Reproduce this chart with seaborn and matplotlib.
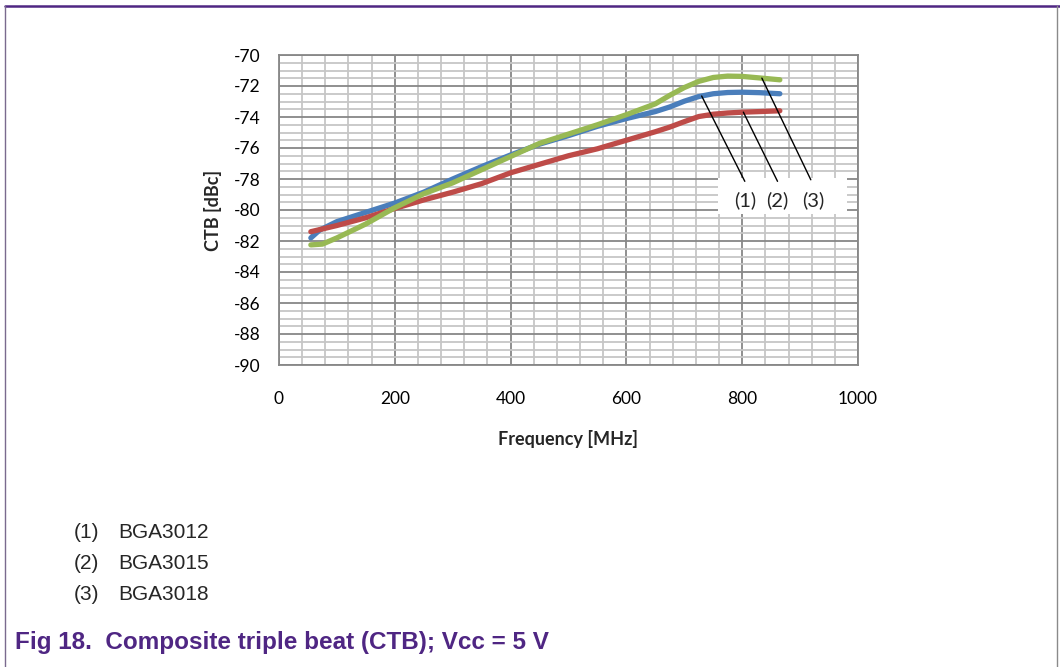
import numpy as np
import pandas as pd
import matplotlib
matplotlib.use("Agg")
import matplotlib.pyplot as plt
import seaborn as sns
from matplotlib.lines import Line2D
from matplotlib.patches import Rectangle

# Frequency sweep [MHz] and measured CTB [dBc] for each device
freq_bga3012 = [55, 70, 100, 150, 200, 250, 300, 350, 400, 450, 500, 550, 600, 650,
                675, 700, 725, 750, 775, 800, 830, 865]
ctb_bga3012 = [-81.8, -81.3, -80.75, -80.15, -79.55, -78.85, -78.0, -77.2, -76.45, -75.75,
               -75.2, -74.6, -74.1, -73.65, -73.35, -72.98, -72.68, -72.5, -72.42, -72.4,
               -72.43, -72.5]

freq_bga3015 = [55, 100, 150, 200, 250, 300, 350, 400, 450, 500, 550, 600, 650,
                675, 700, 725, 750, 775, 800, 830, 865]
ctb_bga3015 = [-81.4, -81.0, -80.5, -79.9, -79.35, -78.85, -78.3, -77.6, -77.05, -76.5,
               -76.05, -75.5, -74.95, -74.65, -74.3, -73.97, -73.82, -73.74, -73.69,
               -73.65, -73.6]

freq_bga3018 = [55, 75, 100, 150, 200, 250, 300, 350, 400, 450, 500, 550, 600, 650,
                675, 700, 725, 750, 775, 800, 830, 865]
ctb_bga3018 = [-82.25, -82.2, -81.8, -80.9, -79.85, -78.95, -78.25, -77.4, -76.55, -75.7,
               -75.1, -74.5, -73.85, -73.15, -72.6, -72.1, -71.7, -71.45, -71.36, -71.38,
               -71.48, -71.6]

series_tags = ["(1)", "(2)", "(3)"]
device_names = ["BGA3012", "BGA3015", "BGA3018"]
series_colors = ["#4a7ebb", "#be4b48", "#98b954"]

x_ticks = [0, 200, 400, 600, 800, 1000]
y_ticks = [-90, -88, -86, -84, -82, -80, -78, -76, -74, -72, -70]

df = pd.concat([
    pd.DataFrame({"freq": freq_bga3012, "ctb": ctb_bga3012, "device": device_names[0]}),
    pd.DataFrame({"freq": freq_bga3015, "ctb": ctb_bga3015, "device": device_names[1]}),
    pd.DataFrame({"freq": freq_bga3018, "ctb": ctb_bga3018, "device": device_names[2]}),
], ignore_index=True)

sns.set_theme(style="white")
plt.rcParams["font.family"] = ["Lato", "DejaVu Sans"]

W, H = 1060, 667
fig = plt.figure(figsize=(W / 100, H / 100), dpi=100)
ax = fig.add_axes([279 / W, 1 - 365 / H, (858 - 279) / W, 310 / H])

grid_major = "#878787"
grid_minor = "#c6c6c6"

ax.set_xlim(0, 1000)
ax.set_ylim(-90, -70)
ax.set_xticks(x_ticks)
ax.set_yticks(y_ticks)
ax.set_xticks(np.arange(0, 1001, 40), minor=True)
ax.set_yticks(np.arange(-90, -69.9, 0.5), minor=True)
ax.grid(which="minor", color=grid_minor, lw=1.3, zorder=0)
ax.grid(which="major", color=grid_major, lw=1.3, zorder=0)
ax.set_axisbelow(True)

sns.lineplot(data=df, x="freq", y="ctb", hue="device", palette=series_colors,
             hue_order=device_names, sort=False, lw=3.8, legend=False, ax=ax,
             solid_capstyle="round", solid_joinstyle="round", zorder=3)

for s in ax.spines.values():
    s.set_color(grid_major)
    s.set_linewidth(1.3)

ax.tick_params(axis="both", which="major", direction="out", length=6, width=1.3,
               color=grid_major, labelsize=12.5, labelcolor="#000000")
ax.tick_params(axis="x", which="major", pad=13)
ax.tick_params(axis="y", which="major", pad=7)
ax.tick_params(which="minor", length=0)
ax.set_xticklabels([str(v) for v in x_ticks])
ax.set_yticklabels([str(v) for v in y_ticks])

ax.set_xlabel("Frequency [MHz]", fontsize=13, fontweight="bold", labelpad=16)
ax.set_ylabel("CTB [dBc]", fontsize=13, fontweight="bold", labelpad=9)

# Callout box with leader lines to each curve
ax.add_patch(Rectangle((758, -80.25), 223, 2.3, facecolor="white", edgecolor="none", zorder=4))
freq_sets = [freq_bga3012, freq_bga3015, freq_bga3018]
ctb_sets = [ctb_bga3012, ctb_bga3015, ctb_bga3018]
leader_start = [730, 802, 834]
leader_end = [(804.5, -78.15), (861, -78.15), (918.5, -78.05)]
label_x = [806, 861, 922]
for tag, fs, cs, f0, (fe, ve), lx in zip(series_tags, freq_sets, ctb_sets,
                                          leader_start, leader_end, label_x):
    v0 = float(np.interp(f0, fs, cs))
    ax.add_line(Line2D([f0, fe], [v0, ve], color="black", lw=1.0, zorder=5))
    ax.text(lx, -79.4, tag, ha="center", va="center", fontsize=14.5, zorder=6)

# Device list and figure caption
for i, (tag, name) in enumerate(zip(series_tags, device_names)):
    y = 1 - (532 + 31.5 * i) / H
    fig.text(74 / W, y, tag, ha="left", va="center", fontsize=15,
             family=["Liberation Sans", "DejaVu Sans"])
    fig.text(118 / W, y, name, ha="left", va="center", fontsize=15,
             family=["Liberation Sans", "DejaVu Sans"])

purple = "#4f2683"
fig.text(15 / W, 1 - 643 / H, "Fig 18.  Composite triple beat (CTB); Vcc = 5 V",
         ha="left", va="center", fontsize=17.5, fontweight="bold", color=purple,
         family=["Liberation Sans", "DejaVu Sans"])

# Page frame
fig.add_artist(Line2D([5 / W, 1], [1 - 6 / H, 1 - 6 / H], color=purple, lw=1.8,
                      transform=fig.transFigure))
fig.add_artist(Line2D([5 / W, 5 / W], [0, 1 - 6 / H], color="#7a6a8e", lw=1.0,
                      transform=fig.transFigure))
fig.add_artist(Line2D([1057 / W, 1057 / W], [0, 1 - 6 / H], color="#8a8a8a", lw=1.0,
                      transform=fig.transFigure))

fig.savefig("out.png", dpi=100)
